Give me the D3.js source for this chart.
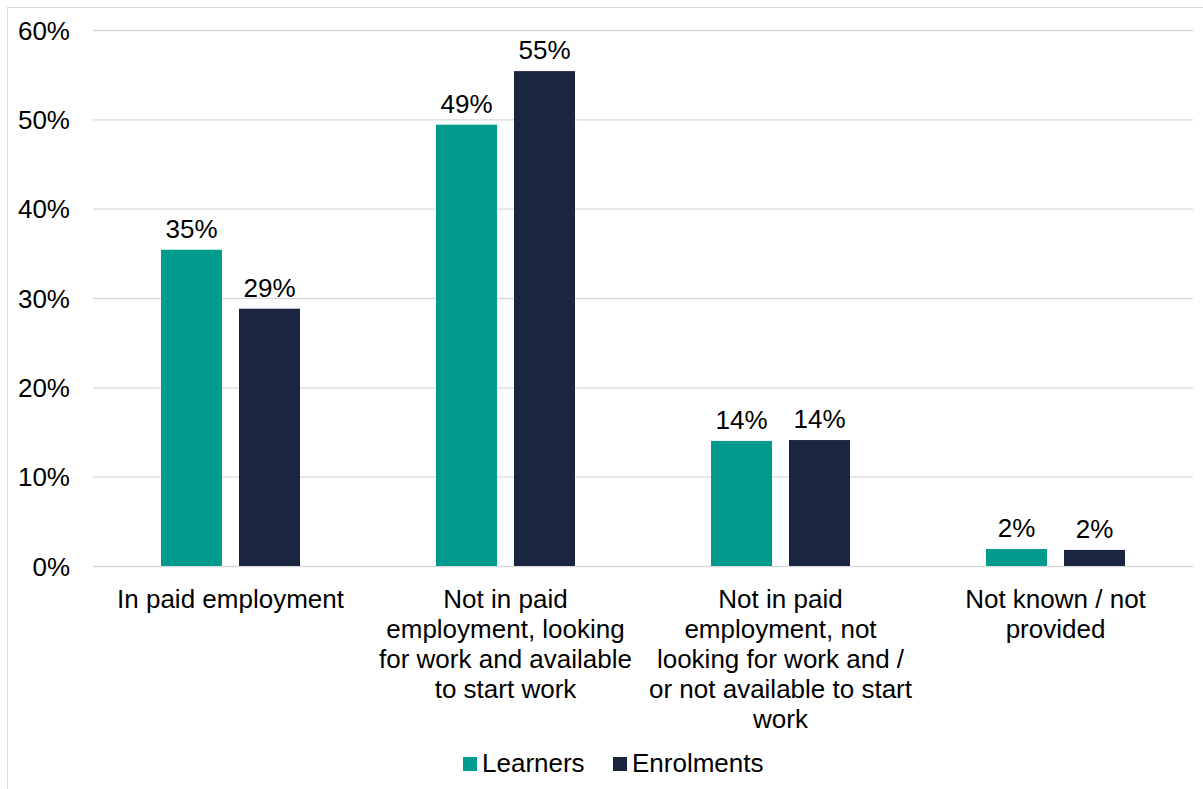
<!DOCTYPE html>
<html>
<head>
<meta charset="utf-8">
<script src="https://cdn.jsdelivr.net/npm/d3@7"></script>
<style>
  html, body { margin: 0; padding: 0; background: #fff; }
  svg { display: block; font-family: "Liberation Sans", Arial, sans-serif; }
</style>
</head>
<body>
<svg id="chart" width="1203" height="789"></svg>
<script>
// Economic status of learners and enrolments (share, %)
const categories = [
  ["In paid employment"],
  ["Not in paid", "employment, looking", "for work and available", "to start work"],
  ["Not in paid", "employment, not", "looking for work and /", "or not available to start", "work"],
  ["Not known / not", "provided"]
];
const seriesNames = ["Learners", "Enrolments"];
const learners   = [35.4, 49.4, 14.0, 1.9];
const enrolments = [28.8, 55.4, 14.1, 1.8];
const yTicks = [0, 10, 20, 30, 40, 50, 60];
const colors = ["#009A8F", "#1A2640"];

const svg = d3.select("#chart");
const plot = { left: 93, right: 1193, top: 30, bottom: 566 };

// Outer frame
svg.append("rect")
  .attr("x", 7.5).attr("y", 7.5)
  .attr("width", 1205).attr("height", 800)
  .attr("fill", "none").attr("stroke", "#d9d9d9").attr("stroke-width", 1);

const x0 = d3.scaleBand()
  .domain(d3.range(categories.length))
  .range([plot.left, plot.right])
  .paddingInner(0).paddingOuter(0);

const barW = 61, barGap = 17;
const x1 = d3.scaleOrdinal()
  .domain([0, 1])
  .range([-(barW + barGap / 2), barGap / 2]);

const y = d3.scaleLinear().domain([0, 60]).range([plot.bottom, plot.top]);

// Gridlines and y tick labels
const yAxis = d3.axisLeft(y)
  .tickValues(yTicks)
  .tickSize(-(plot.right - plot.left))
  .tickPadding(23)
  .tickFormat(d => d + "%");

const gy = svg.append("g")
  .attr("transform", `translate(${plot.left},0)`)
  .call(yAxis);
gy.select(".domain").remove();
gy.selectAll(".tick line").attr("stroke", "#d9d9d9").attr("stroke-width", 1.3);
gy.selectAll(".tick text")
  .attr("fill", "#000")
  .attr("font-size", 26)
  .attr("font-family", "Liberation Sans, Arial, sans-serif")
  .attr("dy", "0.35em");

// Bars
const series = [learners, enrolments];
series.forEach((vals, si) => {
  const g = svg.append("g");
  g.selectAll("rect")
    .data(vals)
    .join("rect")
    .attr("x", (d, i) => x0(i) + x0.bandwidth() / 2 + x1(si))
    .attr("y", d => y(d))
    .attr("width", barW)
    .attr("height", d => y(0) - y(d))
    .attr("fill", colors[si]);
  g.selectAll("text")
    .data(vals)
    .join("text")
    .attr("x", (d, i) => x0(i) + x0.bandwidth() / 2 + x1(si) + barW / 2)
    .attr("y", d => y(d) - 12)
    .attr("text-anchor", "middle")
    .attr("font-size", 26)
    .attr("fill", "#000")
    .text(d => Math.round(d) + "%");
});

// Category labels (wrapped lines)
const cat = svg.append("g");
categories.forEach((lines, i) => {
  const t = cat.append("text")
    .attr("text-anchor", "middle")
    .attr("font-size", 26)
    .attr("fill", "#000");
  lines.forEach((ln, j) => {
    t.append("tspan")
      .attr("x", x0(i) + x0.bandwidth() / 2)
      .attr("y", 608 + j * 30)
      .text(ln);
  });
});

// Legend
const legendItems = [
  { name: seriesNames[0], color: colors[0], x: 463 },
  { name: seriesNames[1], color: colors[1], x: 613 }
];
const lg = svg.append("g");
legendItems.forEach(it => {
  lg.append("rect")
    .attr("x", it.x).attr("y", 757)
    .attr("width", 14).attr("height", 14)
    .attr("fill", it.color);
  lg.append("text")
    .attr("x", it.x + 19).attr("y", 772)
    .attr("font-size", 26)
    .attr("fill", "#000")
    .text(it.name);
});
</script>
</body>
</html>
